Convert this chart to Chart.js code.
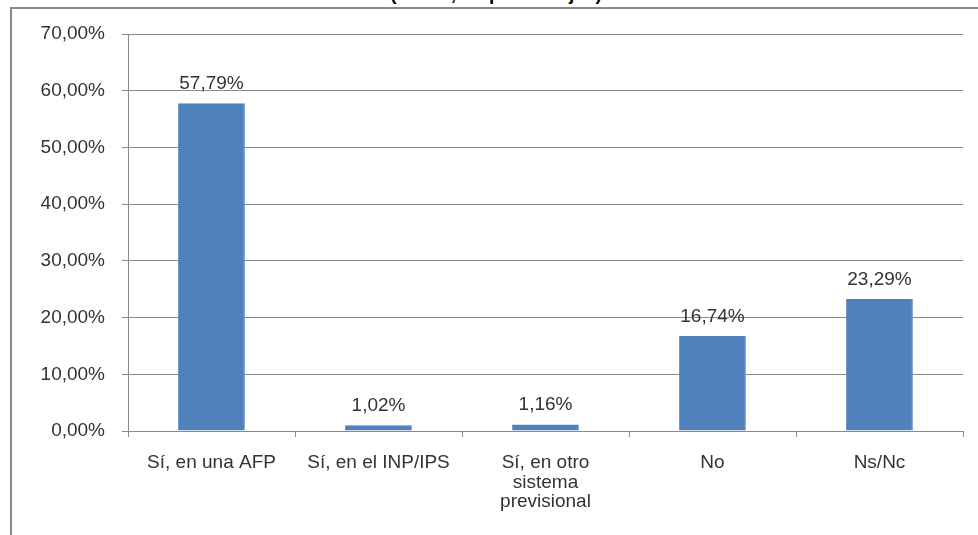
<!DOCTYPE html>
<html>
<head>
<meta charset="utf-8">
<script src="https://cdn.jsdelivr.net/npm/chart.js@4"></script>
<style>
  body { margin: 0; width: 978px; height: 535px; overflow: hidden; background: #fff; position: relative; }
  #frame { position: absolute; left: 10px; top: 7px; width: 990px; height: 560px; border-left: 2px solid #8a8a8a; border-top: 2px solid #8a8a8a; }
  #title { position: absolute; left: 0; width: 992px; top: -16px; text-align: center; font: bold 19px "Liberation Sans", Arial, sans-serif; color: #000; line-height: 20px; }
  #myChart { position: absolute; left: 0; top: 0; }
</style>
</head>
<body>
<div id="title">(n=687, en porcentajes)</div>
<div id="frame"></div>
<canvas id="myChart" width="978" height="535"></canvas>
<script>
// chart data
const categories = [
  "Sí, en una AFP",
  "Sí, en el INP/IPS",
  ["Sí, en otro", "sistema", "previsional"],
  "No",
  "Ns/Nc",
];
const percentages = [57.79, 1.02, 1.16, 16.74, 23.29];
const yTicks = [0, 10, 20, 30, 40, 50, 60, 70];

const fontFamily = '"Liberation Sans", Arial, sans-serif';
const gridColor = "#8a8a8a";
const textColor = "#333";

function formatPct(v) {
  return v.toFixed(2).replace(".", ",") + "%";
}

// draws the value above every bar
const barLabels = {
  id: "barLabels",
  afterDatasetsDraw(chart) {
    const ctx = chart.ctx;
    const meta = chart.getDatasetMeta(0);
    ctx.save();
    ctx.font = "19px " + fontFamily;
    ctx.fillStyle = textColor;
    ctx.textAlign = "center";
    ctx.textBaseline = "alphabetic";
    meta.data.forEach((bar, i) => {
      ctx.fillText(formatPct(percentages[i]), bar.x, bar.y - 14);
    });
    ctx.restore();
  },
};

const ctx = document.getElementById("myChart").getContext("2d");
const chart = new Chart(ctx, {
  type: "bar",
  data: {
    labels: categories,
    datasets: [
      {
        data: percentages,
        backgroundColor: "#4f81bd",
        borderColor: "#6a96cc",
        borderWidth: { right: 1 },
        barPercentage: 0.4,
        categoryPercentage: 1,
      },
    ],
  },
  plugins: [barLabels],
  options: {
    responsive: false,
    animation: false,
    devicePixelRatio: 1,
    layout: { padding: { top: 34, right: 15, left: 0, bottom: 0 } },
    plugins: {
      legend: { display: false },
      tooltip: { enabled: false },
    },
    scales: {
      y: {
        min: 0,
        max: 70,
        afterBuildTicks: (scale) => {
          scale.ticks = yTicks.map((v) => ({ value: v }));
        },
        afterFit: (scale) => {
          scale.width = 128;
        },
        border: { display: true, color: gridColor, width: 1 },
        grid: { color: gridColor, lineWidth: 1, tickLength: 6 },
        ticks: {
          padding: 17,
          color: textColor,
          font: { family: fontFamily, size: 19 },
          callback: (v) => formatPct(v),
        },
      },
      x: {
        afterFit: (scale) => {
          scale.height = 104;
        },
        border: { display: true, color: gridColor, width: 1 },
        grid: { drawOnChartArea: false, color: gridColor, tickLength: 6, offset: true },
        ticks: {
          padding: 16,
          color: textColor,
          maxRotation: 0,
          autoSkip: false,
          font: { family: fontFamily, size: 19, lineHeight: 1.03 },
        },
      },
    },
  },
});
</script>
</body>
</html>
